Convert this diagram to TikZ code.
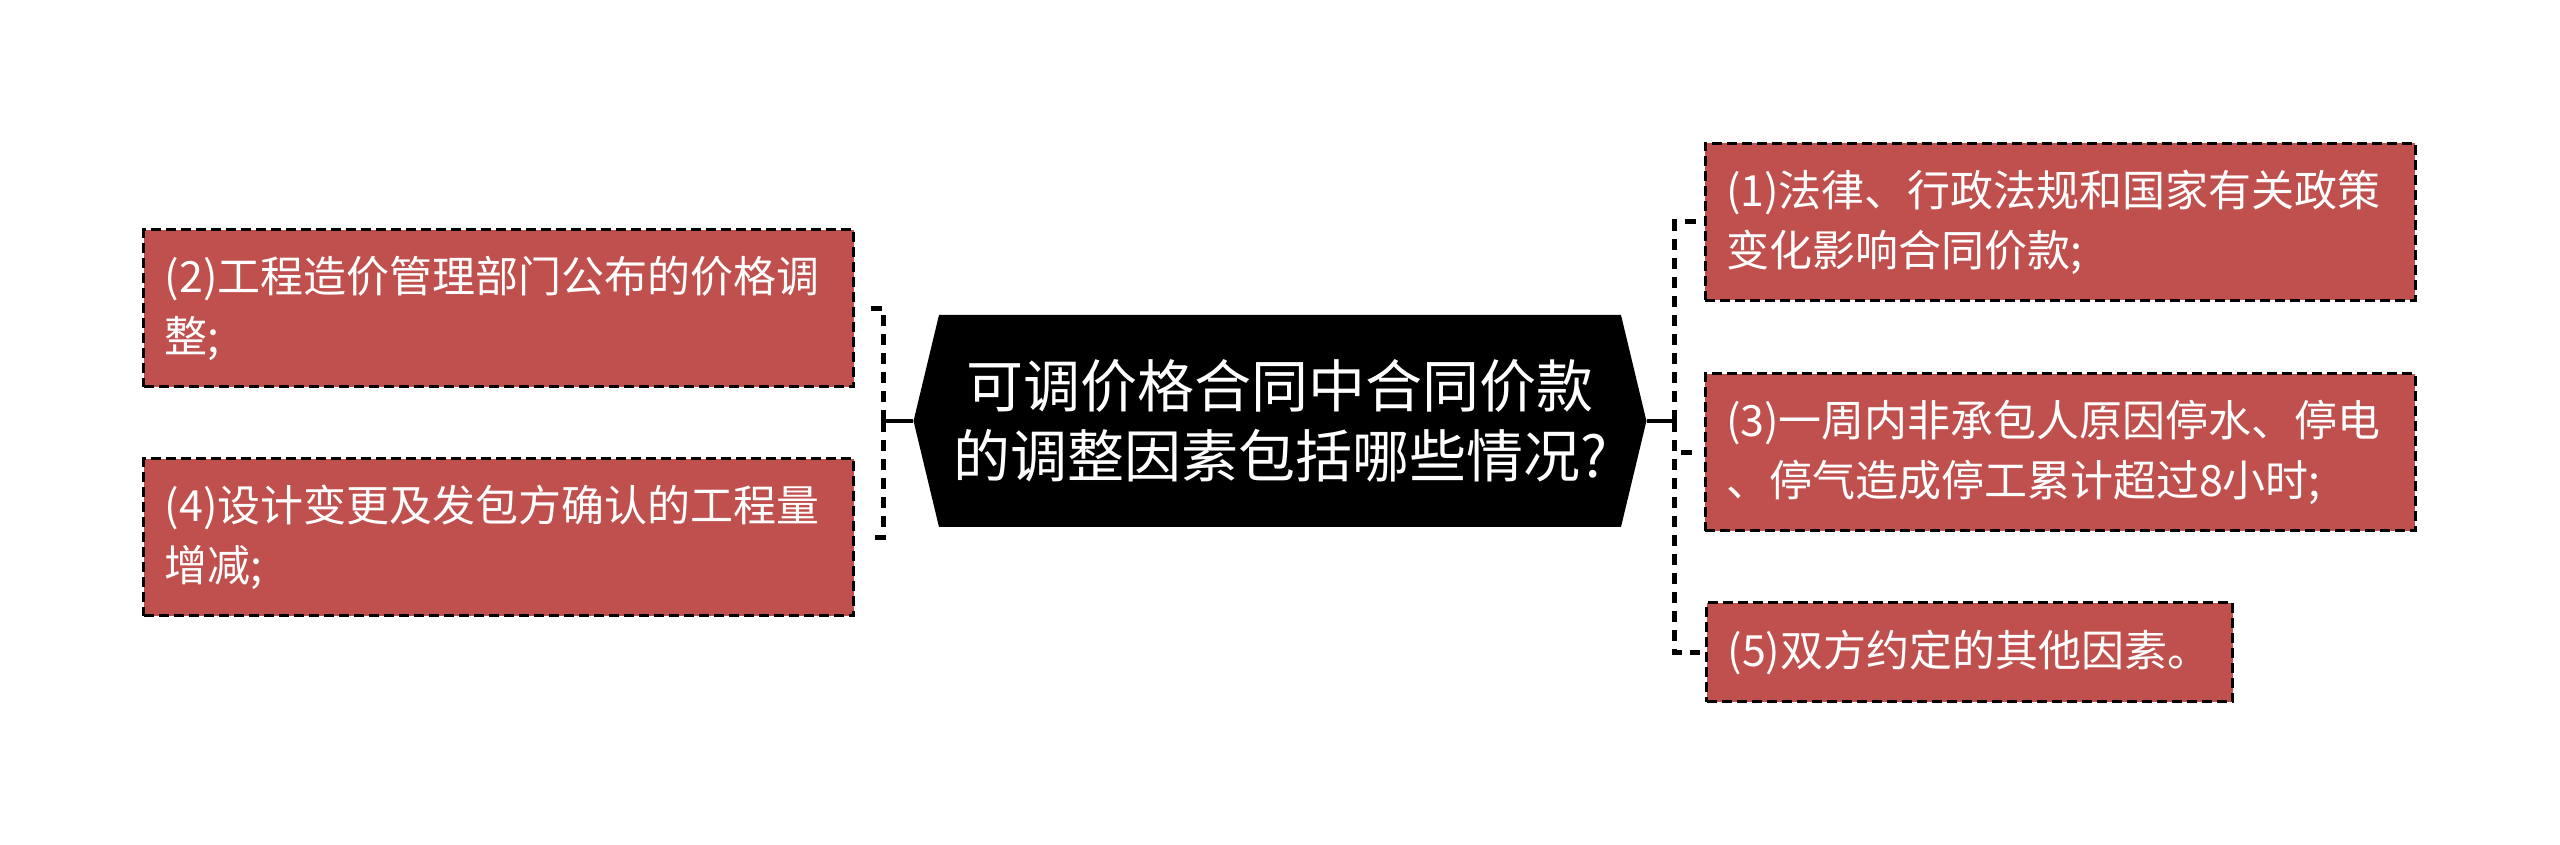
\documentclass[tikz,border=0pt]{standalone}
\usepackage{fontspec}
\newfontfamily\cjk{Noto Sans CJK SC}
\usetikzlibrary{shapes.symbols}
\definecolor{leafred}{HTML}{C0504D}
\tikzset{
  hub/.style={shape=signal, signal to=west and east, signal pointer angle=153,
    fill=black, text=white, align=center, text width=326pt, inner xsep=7.5pt,
    minimum height=106pt, font=\cjk\fontsize{28.5}{35}\selectfont},
  leaf/.style={draw=black, line width=1.5pt, dash pattern=on 5pt off 2.5pt,
    fill=leafred, text=white, align=left, text width=334pt, inner xsep=10.5pt,
    minimum height=78.5pt, font=\cjk\fontsize{21.5}{30}\selectfont},
  trunk/.style={line width=2.3pt},
  branch/.style={line width=2.5pt, dash pattern=on 5.5pt off 4pt},
}
\begin{document}
\begin{tikzpicture}[x=0.5pt, y=0.5pt]
  \useasboundingbox (-1280,421) rectangle (1280,-424);
  \node[hub] (hub) {可调价格合同中合同价款\\的调整因素包括哪些情况?};
  \node[leaf] (b2) at ([shift={(-781, 112.5)}] hub) {(2)工程造价管理部门公布的价格调\\整;};
  \node[leaf] (b4) at ([shift={(-781,-116.5)}] hub) {(4)设计变更及发包方确认的工程量\\增减;};
  \node[leaf] (b1) at ([shift={( 780, 199)}]   hub) {(1)法律、行政法规和国家有关政策\\变化影响合同价款;};
  \node[leaf] (b3) at ([shift={( 780,-31.5)}]  hub) {(3)一周内非承包人原因停水、停电\\、停气造成停工累计超过8小时;};
  \node[leaf, text width=242pt, minimum height=49.5pt, anchor=west]
    (b5) at ([shift={( 425,-231.5)}] hub) {(5)双方约定的其他因素。};
  \coordinate (lj) at ([shift={(-30,0)}] hub.west);
  \coordinate (rj) at ([shift={( 28,0)}] hub.east);
  \draw [trunk] (hub.west) -- (lj);
  \draw [trunk] (hub.east) -- (rj);
  \draw [branch, shorten >=8pt] (lj) |- (b2.east);
  \draw [branch, shorten >=8pt] (lj) |- (b4.east);
  \draw [branch, shorten >=2.5pt] (rj) |- (b1.west);
  \draw [branch, shorten >=2.5pt] (rj) |- (b3.west);
  \draw [branch, shorten >=2.5pt] (rj) |- (b5.west);
\end{tikzpicture}
\end{document}
